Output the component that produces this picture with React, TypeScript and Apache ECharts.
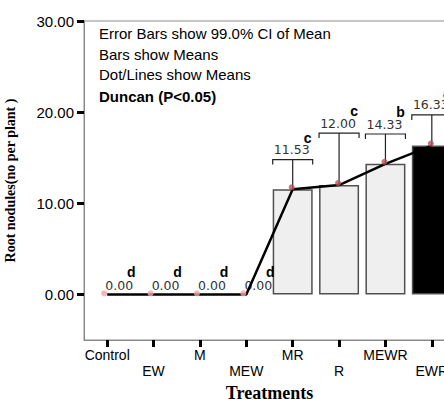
import React, { useEffect, useRef } from "react";
import * as echarts from "echarts";

const categories = ["Control", "EW", "M", "MEW", "MR", "R", "MEWR", "EWR"];
const means = [0, 0, 0, 0, 11.53, 12.0, 14.33, 16.33];
const ciUpper = [0, 0, 0, 0, 14.8, 17.7, 17.6, 19.7];
const duncan = ["d", "d", "d", "d", "c", "c", "b", "a"];
const yTicks = [0, 10, 20, 30];
const notes = [
  "Error Bars show 99.0% CI of Mean",
  "Bars show Means",
  "Dot/Lines show Means",
  "Duncan (P<0.05)",
];

export default function App() {
  const ref = useRef<HTMLDivElement>(null);
  useEffect(() => {
    if (!ref.current) return;
    const chart = echarts.init(ref.current, null, { renderer: "svg" });
    const sans = "'Liberation Sans', Arial, sans-serif";
    const serif = "'Liberation Serif', 'Times New Roman', serif";
    const option: any = {
      animation: false,
      grid: {
        left: 84,
        top: 21,
        right: 15,
        height: 319,
        show: true,
        borderColor: "#8a8a8a",
        borderWidth: 1,
        containLabel: false,
        outerBoundsMode: "none",
      },
      graphic: notes.map((t, i) => ({
        type: "text",
        left: 99,
        top: [26, 47, 67, 89][i],
        style: {
          text: t,
          font: `${i === 3 ? "bold 15px" : "15px"} ${sans}`,
          fill: "#000",
        },
        z: 10,
      })),
      xAxis: {
        type: "category",
        data: categories,
        name: "Treatments",
        nameLocation: "middle",
        nameGap: 41,
        nameTextStyle: {
          fontFamily: serif,
          fontWeight: "bold",
          fontSize: 18,
          color: "#000",
        },
        axisLine: { show: true, onZero: false, lineStyle: { color: "#8a8a8a", width: 1 } },
        axisTick: { show: true, alignWithLabel: true, length: 7, lineStyle: { color: "#000", width: 3 } },
        axisLabel: {
          interval: 0,
          margin: 7,
          fontFamily: sans,
          fontSize: 14,
          color: "#000",
          lineHeight: 16,
          formatter: (v: string, i: number) => (i % 2 === 1 ? "\n" + v : v),
        },
        splitLine: { show: false },
      },
      yAxis: {
        type: "value",
        min: -5,
        max: 30,
        name: "Root nodules(no per plant )",
        nameLocation: "middle",
        nameGap: 67,
        nameTextStyle: {
          fontFamily: serif,
          fontWeight: "bold",
          fontSize: 14,
          color: "#000",
        },
        axisLine: { show: true, lineStyle: { color: "#8a8a8a", width: 1 } },
        axisTick: { show: true, length: 7, customValues: yTicks, lineStyle: { color: "#000", width: 3 } },
        axisLabel: {
          customValues: yTicks,
          margin: 10,
          fontFamily: sans,
          fontSize: 15,
          color: "#000",
          formatter: (v: number) => v.toFixed(2),
        },
        splitLine: { show: false },
      },
      series: [
        {
          type: "bar",
          barWidth: 40,
          z: 2,
          data: means.map((v, i) => ({
            value: v,
            itemStyle: {
              color: i === means.length - 1 ? "#000" : "#efefef",
              borderColor: "#505050",
              borderWidth: v === 0 ? 0 : 1.5,
            },
          })),
        },
        {
          type: "custom",
          z: 3,
          data: means.map((v, i) => [i, v, ciUpper[i]]),
          renderItem: (params: any, api: any) => {
            const idx = params.dataIndex;
            const mean = means[idx];
            const hi = ciUpper[idx];
            const p = api.coord([idx, mean]);
            const cx = p[0];
            const cy = p[1];
            const hw = 20;
            const children: any[] = [];
            const valueText = mean.toFixed(2);
            if (hi > mean) {
              const ty = api.coord([idx, hi])[1];
              children.push({
                type: "line",
                shape: { x1: cx, y1: cy, x2: cx, y2: ty },
                style: { stroke: "#222", lineWidth: 1.2 },
              });
              children.push({
                type: "polyline",
                shape: { points: [[cx - hw, ty + 5], [cx - hw, ty], [cx + hw, ty], [cx + hw, ty + 5]] },
                style: { stroke: "#222", lineWidth: 1.2, fill: null },
              });
              children.push({
                type: "text",
                x: cx - 1,
                y: ty - 10,
                style: {
                  text: valueText,
                  font: "12.5px 'DejaVu Sans', sans-serif",
                  fill: "#333",
                  align: "center",
                  verticalAlign: "middle",
                },
              });
              children.push({
                type: "text",
                x: cx + 15,
                y: ty - 22,
                style: {
                  text: duncan[idx],
                  font: `bold 14px ${sans}`,
                  fill: "#000",
                  align: "center",
                  verticalAlign: "middle",
                },
              });
            } else {
              children.push({
                type: "text",
                x: cx + 12,
                y: cy - 8.5,
                style: {
                  text: valueText,
                  font: "12.5px 'DejaVu Sans', sans-serif",
                  fill: "#333",
                  align: "center",
                  verticalAlign: "middle",
                },
              });
              children.push({
                type: "text",
                x: cx + 24,
                y: cy - 22,
                style: {
                  text: duncan[idx],
                  font: `bold 14px ${sans}`,
                  fill: "#000",
                  align: "center",
                  verticalAlign: "middle",
                },
              });
            }
            return { type: "group", children };
          },
        },
        {
          type: "line",
          z: 4,
          data: means,
          showSymbol: false,
          symbol: "none",
          lineStyle: { color: "#000", width: 2.5 },
        },
        {
          type: "scatter",
          z: 5,
          data: means.map((v) => ({
            value: v,
            symbolOffset: v === 0 ? [-3, -1] : [-1, -2],
            itemStyle: { color: v === 0 ? "#f4a3a3" : "#b5545c" },
          })),
          symbol: "circle",
          symbolSize: 6,
        },
      ],
    };
    chart.setOption(option);
    return () => chart.dispose();
  }, []);
  return (
    <div style={{ position: "fixed", left: 0, top: 0, width: 444, height: 402, overflow: "hidden", background: "#fff" }}>
      <div ref={ref} style={{ width: 470, height: 402 }} />
    </div>
  );
}
